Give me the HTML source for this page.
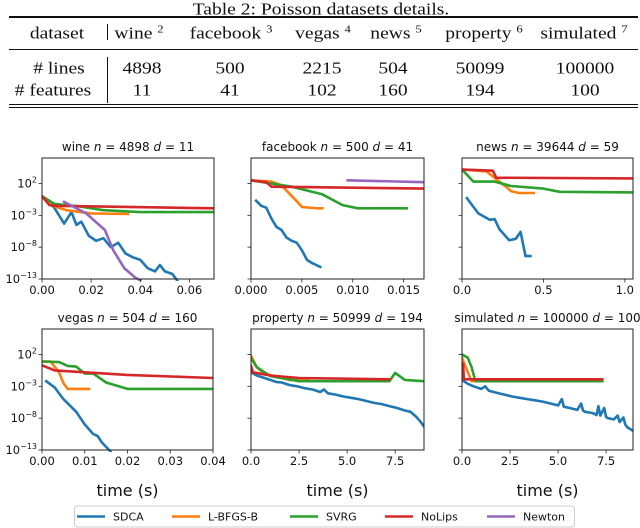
<!DOCTYPE html>
<html><head><meta charset="utf-8">
<style>
html,body{margin:0;padding:0;background:#fff;width:640px;height:528px;overflow:hidden}
#tbl{position:absolute;left:0;top:0;width:640px;height:112px;font-family:"Liberation Serif",serif;font-size:17px;color:#111}
.c{position:absolute;transform:translate(-50%,-50%) scaleX(1.15);white-space:nowrap;line-height:1}
.rule{position:absolute;left:9px;width:629px;background:#111}
sup{font-size:11px;vertical-align:6px}
svg{position:absolute;left:0;top:0}
</style></head><body>
<div id="tbl">
  <div class="c" style="left:321px;top:9px">Table 2: Poisson datasets details.</div>
  <div class="rule" style="top:16px;height:1.5px"></div>
  <div class="rule" style="top:49px;height:1px"></div>
  <div class="rule" style="top:104px;height:1px"></div>
  <div class="rule" style="top:107px;height:1px"></div>
  <div style="position:absolute;left:107px;top:24px;width:1px;height:16px;background:#111"></div>
  <div style="position:absolute;left:107px;top:57px;width:1px;height:46px;background:#111"></div>
  <div class="c" style="left:57px;top:33px">dataset</div>
  <div class="c" style="left:139px;top:33px">wine <sup>2</sup></div>
  <div class="c" style="left:231px;top:33px">facebook <sup>3</sup></div>
  <div class="c" style="left:323px;top:33px">vegas <sup>4</sup></div>
  <div class="c" style="left:396px;top:33px">news <sup>5</sup></div>
  <div class="c" style="left:484px;top:33px">property <sup>6</sup></div>
  <div class="c" style="left:584px;top:33px">simulated <sup>7</sup></div>
  <div class="c" style="left:59px;top:68px"># lines</div>
  <div class="c" style="left:142px;top:68px">4898</div>
  <div class="c" style="left:230px;top:68px">500</div>
  <div class="c" style="left:322px;top:68px">2215</div>
  <div class="c" style="left:393px;top:68px">504</div>
  <div class="c" style="left:480px;top:68px">50099</div>
  <div class="c" style="left:585px;top:68px">100000</div>
  <div class="c" style="left:53px;top:90px"># features</div>
  <div class="c" style="left:142px;top:90px">11</div>
  <div class="c" style="left:230px;top:90px">41</div>
  <div class="c" style="left:322px;top:90px">102</div>
  <div class="c" style="left:393px;top:90px">160</div>
  <div class="c" style="left:480px;top:90px">194</div>
  <div class="c" style="left:585px;top:90px">100</div>
</div>
<svg id="chart" width="640" height="528" xmlns="http://www.w3.org/2000/svg"></svg>
<script>
// ---- data (log10 of suboptimality vs time) ----
const methods = ["SDCA","L-BFGS-B","SVRG","NoLips","Newton"];
const colors = ["#1f77b4","#ff7f0e","#2ca02c","#d62728","#9467bd"];
const yTicks = [2,-3,-8,-13];

const wineXTicks = [0,0.02,0.04,0.06];
const wineSdcaX = [0,0.005,0.009,0.012,0.014,0.016,0.019,0.022,0.025,0.028,0.031,0.034,0.037,0.04,0.043,0.046,0.048,0.05,0.053,0.055];
const wineSdcaY = [0,-1.8,-4.3,-2.5,-4.5,-4,-6.2,-7,-6.6,-8,-7.3,-9,-9.6,-10,-11.3,-11.8,-10.8,-11.8,-12.2,-13.2];
const wineLbfgsX = [0,0.005,0.01,0.02,0.035];
const wineLbfgsY = [0,-1.6,-2.2,-2.7,-2.8];
const wineSvrgX = [0,0.005,0.015,0.025,0.04,0.07];
const wineSvrgY = [0,-1.2,-1.6,-2.2,-2.5,-2.5];
const wineNolipsX = [0,0.003,0.005,0.07];
const wineNolipsY = [0,-1.4,-1.5,-1.9];
const wineNewtonX = [0.009,0.018,0.0256,0.029,0.0335,0.038,0.04];
const wineNewtonY = [-0.9,-2.7,-5.3,-8.5,-11.3,-12.8,-13.2];

const fbXTicks = [0,0.005,0.010,0.015];
const fbSdcaX = [0.0005,0.001,0.0015,0.002,0.0025,0.003,0.0035,0.004,0.0045,0.005,0.0055,0.006,0.0068];
const fbSdcaY = [-0.7,-1.5,-1.8,-3.5,-4.8,-5.3,-6.5,-7,-7.3,-8.5,-10,-10.5,-11.1];
const fbLbfgsX = [0,0.002,0.003,0.0045,0.005,0.0065,0.007];
const fbLbfgsY = [2.5,2.3,1.7,-0.8,-1.7,-1.9,-1.9];
const fbSvrgX = [0,0.004,0.007,0.009,0.0105,0.0153];
const fbSvrgY = [2.5,1.5,0.3,-1.4,-1.9,-1.9];
const fbNolipsX = [0,0.0015,0.002,0.017];
const fbNolipsY = [2.5,2.2,1.5,1.2];
const fbNewtonX = [0.0095,0.017];
const fbNewtonY = [2.5,2.2];

const newsXTicks = [0,0.5,1.0];
const newsSdcaX = [0.03,0.1,0.17,0.2,0.23,0.29,0.33,0.36,0.39,0.42];
const newsSdcaY = [-0.3,-2.7,-3.7,-3.6,-5.2,-6.9,-6.7,-5.6,-9.4,-9.4];
const newsLbfgsX = [0,0.15,0.22,0.27,0.3,0.35,0.44];
const newsLbfgsY = [4.2,3.9,2.5,1.5,0.8,0.5,0.5];
const newsSvrgX = [0,0.07,0.2,0.3,0.5,0.6,1.05];
const newsSvrgY = [4.2,2.3,2.3,1.6,1.2,0.7,0.6];
const newsNolipsX = [0,0.19,0.21,1.05];
const newsNolipsY = [4.2,4.0,2.9,2.8];

const vegasXTicks = [0,0.01,0.02,0.03,0.04];
const vegasSdcaX = [0.001,0.003,0.005,0.0065,0.008,0.01,0.012,0.013,0.014,0.016];
const vegasSdcaY = [-2.2,-3.2,-5,-6,-7,-9,-10.5,-10.8,-11.8,-13.2];
const vegasLbfgsX = [0,0.002,0.004,0.005,0.006,0.011];
const vegasLbfgsY = [0.9,0.9,-0.8,-2.5,-3.4,-3.4];
const vegasSvrgX = [0,0.004,0.006,0.008,0.01,0.012,0.015,0.02,0.04];
const vegasSvrgY = [0.9,0.8,0.2,0.1,-1,-1,-2.4,-3.4,-3.4];
const vegasNolipsX = [0,0.003,0.01,0.02,0.04];
const vegasNolipsY = [0.3,-0.5,-0.8,-1.2,-1.7];

const propXTicks = [0,2.5,5,7.5];
const propSdcaX = [0,0.3,0.6,1,1.3,1.6,2,2.4,2.8,3.2,3.6,3.8,4,4.4,4.8,5.2,5.6,6,6.4,6.8,7.2,7.6,8,8.3,8.6,8.8,9];
const propSdcaY = [-0.8,-1.3,-1.6,-2,-2.3,-2.4,-2.8,-3,-3.3,-3.5,-3.9,-3.5,-4.1,-4.3,-4.6,-4.8,-5,-5.3,-5.6,-5.8,-6.1,-6.4,-6.8,-7,-7.8,-8.5,-9.3];
const propLbfgsX = [0,0.3,0.7,2,3];
const propLbfgsY = [1.8,0,-1,-2,-2.1];
const propSvrgX = [0,0.3,1,2.5,7.2,7.5,8,9];
const propSvrgY = [1.4,0,-1.4,-2.2,-2.2,-0.9,-2,-2.2];
const propNolipsX = [0,0.1,1,2.5,7.2];
const propNolipsY = [0.2,-0.8,-1.3,-1.7,-1.9];

const simXTicks = [0,2.5,5,7.5];
const simSdcaX = [0,0.3,0.6,1,1.2,1.4,1.8,2.2,2.6,3,3.4,3.8,4.2,4.6,5,5.2,5.3,5.6,6,6.2,6.3,6.4,6.8,7,7.1,7.2,7.4,7.5,7.6,7.9,8.1,8.2,8.4,8.5,8.6,8.8,8.9];
const simSdcaY = [-2,-2.6,-3,-3.4,-3,-3.7,-4,-4.3,-4.6,-4.8,-5,-5.2,-5.4,-5.7,-6,-5,-6.2,-6.4,-6.7,-5.7,-6.8,-7,-7.2,-7.5,-6.1,-7.6,-6.4,-7.8,-8,-8.2,-7.6,-8.6,-7.9,-9,-9.4,-9.8,-10];
const simLbfgsX = [0,0.2,0.5,1.5];
const simLbfgsY = [1.5,0,-2.2,-2.2];
const simSvrgX = [0,0.3,0.5,0.7,7.3];
const simSvrgY = [2,1.5,0,-2.2,-2.2];
const simNolipsX = [0,0.05,0.1,7.3];
const simNolipsY = [-0.5,0.6,-1.9,-1.9];

// ---- layout ----
const NS = "http://www.w3.org/2000/svg";
const svg = document.getElementById('chart');
const FONT = '"DejaVu Sans","Liberation Sans",sans-serif';
function mk(tag, attrs, parent){const e=document.createElementNS(NS,tag);for(const k in attrs)e.setAttribute(k,attrs[k]);(parent||svg).appendChild(e);return e;}

const panels = [
 {key:'wine', name:'wine', n:'4898', d:'11', L:42, T:158, R:214, B:279, xmax:0.07, ticks:wineXTicks, dec:2, ylab:true,
  series:[[wineSdcaX,wineSdcaY],[wineLbfgsX,wineLbfgsY],[wineSvrgX,wineSvrgY],[wineNolipsX,wineNolipsY],[wineNewtonX,wineNewtonY]]},
 {key:'facebook', name:'facebook', n:'500', d:'41', L:251, T:158, R:424, B:279, xmax:0.017, ticks:fbXTicks, dec:3, ylab:false,
  series:[[fbSdcaX,fbSdcaY],[fbLbfgsX,fbLbfgsY],[fbSvrgX,fbSvrgY],[fbNolipsX,fbNolipsY],[fbNewtonX,fbNewtonY]]},
 {key:'news', name:'news', n:'39644', d:'59', L:462, T:158, R:633, B:279, xmax:1.05, ticks:newsXTicks, dec:1, ylab:false,
  series:[[newsSdcaX,newsSdcaY],[newsLbfgsX,newsLbfgsY],[newsSvrgX,newsSvrgY],[newsNolipsX,newsNolipsY]]},
 {key:'vegas', name:'vegas', n:'504', d:'160', L:42, T:329, R:213, B:450, xmax:0.04, ticks:vegasXTicks, dec:2, ylab:true, xl:true,
  series:[[vegasSdcaX,vegasSdcaY],[vegasLbfgsX,vegasLbfgsY],[vegasSvrgX,vegasSvrgY],[vegasNolipsX,vegasNolipsY]]},
 {key:'property', name:'property', n:'50999', d:'194', L:251, T:329, R:424, B:450, xmax:9, ticks:propXTicks, dec:1, ylab:false, xl:true,
  series:[[propSdcaX,propSdcaY],[propLbfgsX,propLbfgsY],[propSvrgX,propSvrgY],[propNolipsX,propNolipsY]]},
 {key:'simulated', name:'simulated', n:'100000', d:'100', L:462, T:329, R:633, B:450, xmax:8.9, ticks:simXTicks, dec:1, ylab:false, xl:true,
  series:[[simSdcaX,simSdcaY],[simLbfgsX,simLbfgsY],[simSvrgX,simSvrgY],[simNolipsX,simNolipsY]]}
];
const YMIN=-13, YMAX=6;

panels.forEach(p=>{
  const g = mk('g',{});
  
  
  const xs = v => p.L + (v/p.xmax)*(p.R-p.L);
  const ys = v => p.B - (v-YMIN)/(YMAX-YMIN)*(p.B-p.T);
  const clip = mk('clipPath',{id:'clip-'+p.key},g);
  mk('rect',{x:p.L,y:p.T-2,width:p.R-p.L,height:p.B-p.T+4},clip);
  const lines = mk('g',{'clip-path':'url(#clip-'+p.key+')'},g);
  p.series.forEach((s,i)=>{
    const pts = s[0].map((x,j)=>xs(x).toFixed(1)+','+ys(s[1][j]).toFixed(1)).join(' ');
    const pl = mk('polyline',{points:pts,fill:'none',stroke:colors[i],'stroke-width':2.6,'stroke-linejoin':'round','stroke-linecap':'square'},lines);
    
    
  });
  const fr = mk('rect',{x:p.L,y:p.T,width:p.R-p.L,height:p.B-p.T,fill:'none',stroke:'#222','stroke-width':1},g);
  
  
  const t = mk('text',{x:(p.L+p.R)/2,y:p.T-7,'text-anchor':'middle','font-family':FONT,'font-size':12,fill:'#111'},g);
  
  
  t.innerHTML = p.name+' <tspan font-style="italic">n</tspan> = '+p.n+' <tspan font-style="italic">d</tspan> = '+p.d;
  p.ticks.forEach(v=>{
    const x = xs(v);
    mk('line',{x1:x,x2:x,y1:p.B,y2:p.B+3.5,stroke:'#222','stroke-width':0.8},g);
    const tl = mk('text',{x:x,y:p.B+15,'text-anchor':'middle','font-family':FONT,'font-size':11.5,fill:'#111'},g);
    
    
    tl.textContent = v.toFixed(p.dec);
  });
  yTicks.forEach(v=>{
    const y = ys(v);
    mk('line',{x1:p.L-3.5,x2:p.L,y1:y,y2:y,stroke:'#222','stroke-width':0.8},g);
    if(p.ylab){
      const tl = mk('text',{x:p.L-5,y:y+4,'text-anchor':'end','font-family':FONT,'font-size':11.5,fill:'#111'},g);
      
      
      const s = v<0 ? '\u2212'+(-v) : ''+v;
      tl.innerHTML = '10<tspan font-size="8" dy="-5">'+s+'</tspan>';
    }
  });
  if(p.xl){
    const xt = mk('text',{x:(p.L+p.R)/2,y:496,'text-anchor':'middle','font-family':FONT,'font-size':16,fill:'#111'},g);
    
    
    xt.textContent = 'time (s)';
  }
});

// legend
const lg = mk('g',{});


mk('rect',{x:74.5,y:506,width:500,height:21,rx:3,fill:'#fff',stroke:'#ccc','stroke-width':1},lg);
const legX = [77,172,290,385,487];
methods.forEach((m,i)=>{
  const e = mk('g',{},lg);
  
  
  mk('line',{x1:legX[i],x2:legX[i]+28,y1:516.5,y2:516.5,stroke:colors[i],'stroke-width':2.6},e);
  const tx = mk('text',{x:legX[i]+36,y:520.5,'font-family':FONT,'font-size':11,fill:'#111'},e);
  tx.textContent = m;
});
</script>
</body></html>
